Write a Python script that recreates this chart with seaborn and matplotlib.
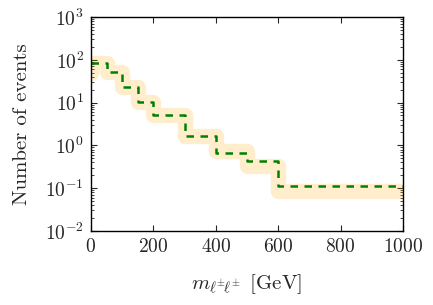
import matplotlib
matplotlib.use("Agg")
import matplotlib.pyplot as plt
import seaborn as sns
import pandas as pd
from matplotlib.ticker import LogLocator, MultipleLocator

# bin edges and contents
edges = [0, 50, 100, 150, 200, 300, 400, 500, 600, 1000]
dashed_vals = [84, 84, 52, 23, 10.2, 5.0, 1.63, 0.65, 0.43, 0.115]
band_vals = [49, 84, 52, 23, 10.2, 5.0, 1.63, 0.72, 0.33, 0.084]

sns.set_style("ticks")
plt.rcParams.update({
    "font.family": "serif",
    "font.serif": ["cmr10"],
    "mathtext.fontset": "cm",
    "axes.formatter.use_mathtext": True,
    "axes.unicode_minus": True,
    "xtick.direction": "in",
    "ytick.direction": "in",
    "xtick.top": True,
    "ytick.right": True,
    "axes.edgecolor": "black",
    "axes.linewidth": 1.0,
})

df_band = pd.DataFrame({"x": edges, "y": band_vals})
df_dash = pd.DataFrame({"x": edges, "y": dashed_vals})

fig = plt.figure(figsize=(4.33, 3.05), dpi=100)
ax = fig.add_subplot(111)
fig.subplots_adjust(left=0.21, right=0.931, bottom=0.243, top=0.944)

sns.lineplot(data=df_band, x="x", y="y", ax=ax, color="orange", alpha=0.2,
             lw=11, drawstyle="steps-pre", estimator=None, sort=False,
             solid_capstyle="round", solid_joinstyle="round")
sns.lineplot(data=df_dash, x="x", y="y", ax=ax, color="#008000", lw=1.8,
             drawstyle="steps-pre", estimator=None, sort=False,
             linestyle=(0, (3, 2.6)))

ax.set_yscale("log")
ax.set_xlim(0, 1000)
ax.set_ylim(1e-2, 1e3)
ax.xaxis.set_major_locator(MultipleLocator(200))
ax.yaxis.set_major_locator(LogLocator(base=10, numticks=10))
ax.yaxis.set_minor_locator(LogLocator(base=10, subs=range(2, 10), numticks=20))
ax.tick_params(which="major", length=4, width=0.8, labelsize=14, pad=5)
ax.tick_params(which="minor", length=2, width=0.6)
ax.set_xlabel(r"$m_{\ell^{\pm}\!\ell^{\pm}}\;\, [\mathrm{GeV}]$", fontsize=15, labelpad=12)
ax.set_ylabel("Number of events", fontsize=15, labelpad=10)

fig.savefig("out.png", dpi=100)
